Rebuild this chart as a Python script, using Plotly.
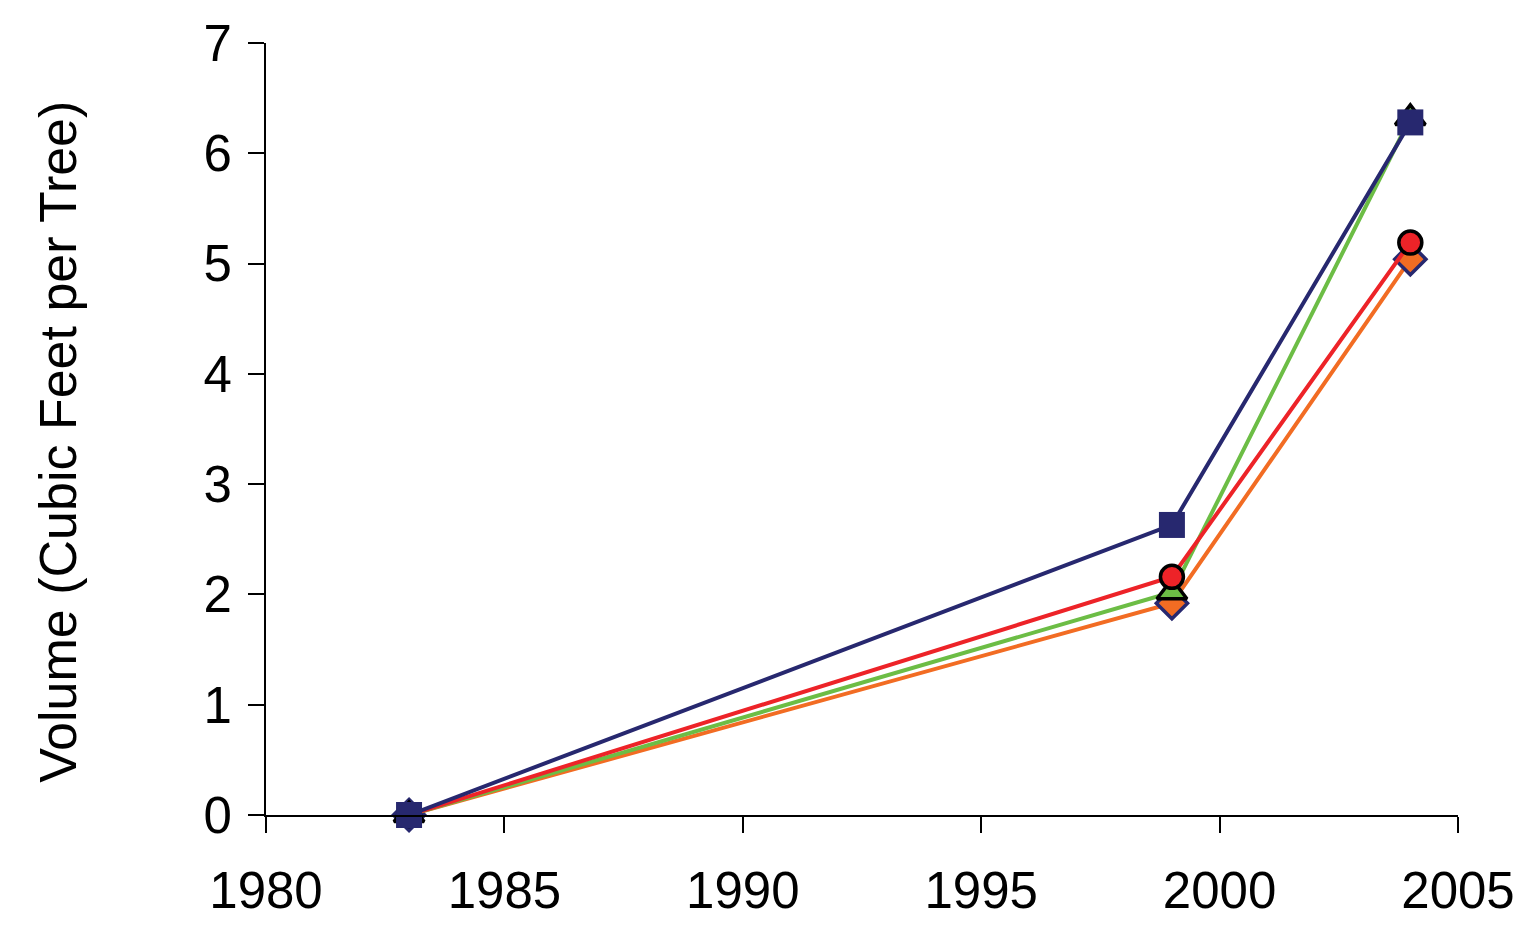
import plotly.graph_objects as go

years = [1983, 1999, 2004]

# volume per tree
orange_diamond = [0.0, 1.92, 5.04]
green_triangle = [0.0, 2.02, 6.32]
red_circle = [0.0, 2.16, 5.19]
navy_square = [0.0, 2.63, 6.28]

x_ticks = [1980, 1985, 1990, 1995, 2000, 2005]
y_ticks = [0, 1, 2, 3, 4, 5, 6, 7]

NAVY = "#27286f"
GREEN = "#6cbd45"
RED = "#ed2328"
ORANGE = "#f26c23"

fig = go.Figure()

fig.add_trace(go.Scatter(
    x=years, y=orange_diamond, mode="lines+markers", cliponaxis=False,
    line=dict(color=ORANGE, width=4),
    marker=dict(symbol="diamond", size=24, color=ORANGE, line=dict(color=NAVY, width=3.5)),
    name="orange"))

fig.add_trace(go.Scatter(
    x=years, y=green_triangle, mode="lines+markers", cliponaxis=False,
    line=dict(color=GREEN, width=4),
    marker=dict(symbol="triangle-up", size=26, color=GREEN, line=dict(color="black", width=3.5)),
    name="green"))

fig.add_trace(go.Scatter(
    x=years, y=red_circle, mode="lines+markers", cliponaxis=False,
    line=dict(color=RED, width=4),
    marker=dict(symbol="circle", size=23, color=RED, line=dict(color="black", width=3.5)),
    name="red"))

fig.add_trace(go.Scatter(
    x=years, y=navy_square, mode="lines+markers", cliponaxis=False,
    line=dict(color=NAVY, width=4),
    marker=dict(symbol="square", size=26, color=NAVY, line=dict(color=NAVY, width=0)),
    name="navy"))

# the page body adds 8px on top and left, so the figure is a bit smaller
fig.update_layout(
    width=1509, height=920,
    margin=dict(l=258, r=59, t=35, b=113),
    paper_bgcolor="white", plot_bgcolor="white",
    showlegend=False,
    font=dict(family="Liberation Sans, Arial", color="black"),
)

fig.update_xaxes(
    range=[1980, 2005], tickvals=x_ticks, ticktext=[str(v) for v in x_ticks],
    showgrid=False, zeroline=False, showline=True, linecolor="black", linewidth=2,
    ticks="outside", ticklen=16, tickwidth=2, tickcolor="black",
    tickfont=dict(size=51), ticklabelstandoff=14, automargin=False,
)

fig.update_yaxes(
    range=[0, 7], tickvals=y_ticks,
    showgrid=False, zeroline=False, showline=True, linecolor="black", linewidth=2,
    ticks="outside", ticklen=16, tickwidth=2, tickcolor="black",
    tickfont=dict(size=51), ticklabelstandoff=6, automargin=False,
)

# y title as an annotation so it can sit a little below the middle, as in the original
fig.add_annotation(
    text="Volume (Cubic Feet per Tree)", textangle=-90,
    xref="paper", yref="paper", x=-0.174, y=0.483,
    xanchor="center", yanchor="middle", showarrow=False,
    font=dict(size=52),
)

fig.write_html("out.html")
